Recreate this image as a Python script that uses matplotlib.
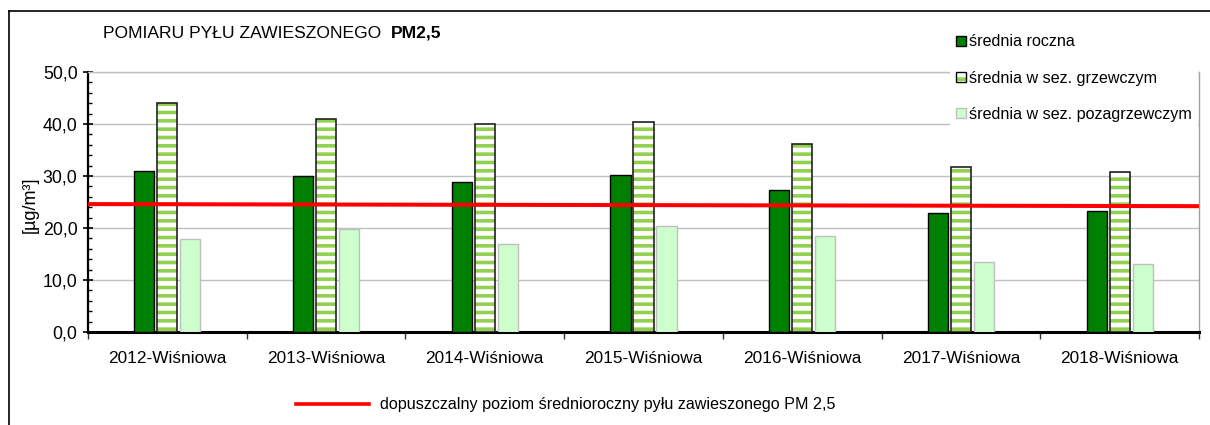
import matplotlib
matplotlib.use("Agg")
import matplotlib.pyplot as plt
from matplotlib.patches import Patch
from matplotlib.lines import Line2D
from matplotlib.ticker import FuncFormatter, MultipleLocator
from matplotlib.legend_handler import HandlerTuple
import numpy as np

plt.rcParams['font.family'] = ['Liberation Sans', 'DejaVu Sans']
plt.rcParams['hatch.linewidth'] = 2.6

categories = ["2012-Wiśniowa", "2013-Wiśniowa", "2014-Wiśniowa", "2015-Wiśniowa",
              "2016-Wiśniowa", "2017-Wiśniowa", "2018-Wiśniowa"]
srednia_roczna = [31.0, 30.0, 28.9, 30.2, 27.4, 22.8, 23.3]
sezon_grzewczy = [44.0, 41.0, 40.0, 40.4, 36.1, 31.7, 30.8]
sezon_pozagrzewczy = [17.9, 19.9, 16.9, 20.3, 18.5, 13.5, 13.1]
limit_start, limit_end = 24.6, 24.2

series_labels = ["średnia roczna", "średnia w sez. grzewczym", "średnia w sez. pozagrzewczym"]
limit_label = "dopuszczalny poziom średnioroczny pyłu zawieszonego PM 2,5"
title_main = "POMIARU PYŁU ZAWIESZONEGO  "
title_bold = "PM2,5"
ylabel = "[µg/m³]"

W, H = 1210, 425
fig = plt.figure(figsize=(W / 100, H / 100), dpi=100)
ax = fig.add_axes([88 / W, 1 - 332 / H, (1199 - 88) / W, (332 - 72) / H])

x = np.arange(len(categories))
off = 0.145
bw = 0.127
dark = '#008000'
stripe = '#92d050'
pale = '#ccffcc'

ax.bar(x - off, srednia_roczna, bw, color=dark, edgecolor='black', linewidth=1.0, zorder=3)
ax.bar(x, sezon_grzewczy, bw, color='white', edgecolor=stripe, hatch='--', linewidth=0, zorder=3)
ax.bar(x, sezon_grzewczy, bw, color='none', edgecolor='#222222', linewidth=1.2, zorder=4)
ax.bar(x + off, sezon_pozagrzewczy, bw, color=pale, edgecolor='#c0c0c0', linewidth=1.0, zorder=3)

ax.plot([-0.5, len(categories) - 0.5], [limit_start, limit_end], color='#ff0000', lw=2.9,
        zorder=5, solid_capstyle='butt')

ax.set_xlim(-0.5, len(categories) - 0.5)
ax.set_ylim(0, 50)
ax.yaxis.set_major_locator(MultipleLocator(10))
ax.yaxis.set_minor_locator(MultipleLocator(2))
ax.yaxis.set_major_formatter(FuncFormatter(lambda v, p: f"{v:.1f}".replace('.', ',')))
ax.grid(axis='y', which='major', color='#c0c0c0', lw=1.0, zorder=0)
ax.set_axisbelow(True)

ax.set_xticks(x)
ax.set_xticklabels(categories, fontsize=12.4)
ax.set_xticks(np.arange(-0.5, len(categories)), minor=True)
ax.tick_params(axis='x', which='major', length=0, pad=14)
ax.tick_params(axis='x', which='minor', direction='out', length=5, width=1, color='#333333')
ax.tick_params(axis='y', which='major', direction='inout', length=7, width=1.2, labelsize=12.8, pad=4)
ax.tick_params(axis='y', which='minor', direction='in', length=3, width=1)

ax.spines['left'].set_linewidth(1.6)
ax.spines['left'].set_color('black')
ax.spines['bottom'].set_linewidth(2.2)
ax.spines['bottom'].set_color('black')
ax.spines['right'].set_color('#a0a0a0')
ax.spines['right'].set_linewidth(1.0)
ax.spines['top'].set_color('#c0c0c0')
ax.spines['top'].set_linewidth(1.0)

fig.text(30 / W, 1 - 205 / H, ylabel, rotation=90, fontsize=13, ha='center', va='center')

t1 = fig.text(103 / W, 1 - 33 / H, title_main, fontsize=12.6, ha='left', va='center')
ax.annotate(title_bold, xy=(1, 0.5), xycoords=t1, fontsize=12.6, fontweight='bold',
            ha='left', va='center', annotation_clip=False)

h1 = Patch(facecolor=dark, edgecolor='black', linewidth=1.0)
h2 = (Patch(facecolor='white', edgecolor=stripe, hatch='--', linewidth=0),
      Patch(facecolor='none', edgecolor='black', linewidth=1.0))
h3 = Patch(facecolor=pale, edgecolor='#c0c0c0', linewidth=1.0)
leg = fig.legend([h1, h2, h3], series_labels, loc='upper left',
                 bbox_to_anchor=(950 / W, 1 - 28 / H), fontsize=11.6,
                 frameon=True, facecolor='white', edgecolor='none', framealpha=1,
                 fancybox=False, handlelength=0.6, handleheight=0.6, handletextpad=0.15,
                 labelspacing=1.32, borderpad=0.4, borderaxespad=0,
                 handler_map={tuple: HandlerTuple(ndivide=1)})

leg2 = fig.legend([Line2D([0], [0], color='#ff0000', lw=2.6)], [limit_label],
                  loc='center left', bbox_to_anchor=(296 / W, 1 - 405 / H), fontsize=11.6,
                  frameon=False, handlelength=4.5, handletextpad=0.7, borderaxespad=0,
                  borderpad=0)

# outer chart frame
fig.add_artist(Line2D([9 / W, 9 / W], [0, 1 - 11 / H], color='black', lw=1.2, transform=fig.transFigure))
fig.add_artist(Line2D([9 / W, 1], [1 - 11 / H, 1 - 11 / H], color='black', lw=1.2, transform=fig.transFigure))

fig.savefig("out.png", dpi=100)
